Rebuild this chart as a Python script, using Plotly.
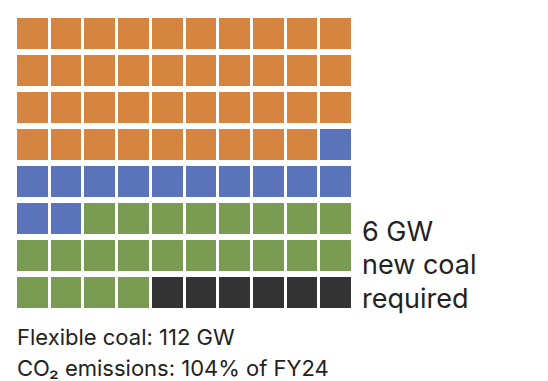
import plotly.graph_objects as go

# Waffle data: counts of cells per segment (10 x 8 grid)
segments = ["Segment A", "Segment B", "Segment C", "New coal"]
segment_counts = [39, 13, 22, 6]
segment_colors = ["#D5853F", "#5B73BA", "#7A9C52", "#333333"]
n_cols = 10
n_rows = 8

side_lines = ["6 GW", "new coal", "required"]
footer_lines = ["Flexible coal: 112 GW", "CO₂ emissions: 104% of FY24"]

# build grid (row-major, top-left first)
flat = []
for i, c in enumerate(segment_counts):
    flat += [i] * c
z = [flat[r * n_cols:(r + 1) * n_cols] for r in range(n_rows)]
labels = [[segments[v] for v in row] for row in z]

k = len(segments)
cs = []
for i, col in enumerate(segment_colors):
    cs.append([i / k, col])
    cs.append([(i + 1) / k, col])

fig = go.Figure(go.Heatmap(
    z=z, x=list(range(n_cols)), y=list(range(n_rows)),
    text=labels, hoverinfo="text",
    zmin=-0.5, zmax=k - 0.5, colorscale=cs, showscale=False,
    xgap=3, ygap=6,
))

# page body has an 8px margin: figure sized to fit the window
OFF = 8
W, H = 548 - OFF, 381 - OFF
L, T, PW, PH = 15.5 - OFF, 15 - OFF, 338, 296
fig.update_layout(
    width=W, height=H,
    margin=dict(l=L, t=T, r=W - L - PW, b=H - T - PH, pad=0),
    paper_bgcolor="white", plot_bgcolor="white",
    font=dict(family="Inter, Liberation Sans, sans-serif", color="#222222"),
    xaxis=dict(visible=False, range=[-0.5, n_cols - 0.5], fixedrange=True),
    yaxis=dict(visible=False, range=[n_rows - 0.5, -0.5], fixedrange=True),
)

def px_x(p):
    return (p - OFF - L) / PW

def px_y(p):
    return 1 - (p - OFF - T) / PH

side_centers = [231, 264, 298]
for txt, yc in zip(side_lines, side_centers):
    fig.add_annotation(
        text=txt, xref="paper", yref="paper",
        x=px_x(361), y=px_y(yc), xanchor="left", yanchor="middle",
        align="left", showarrow=False, font=dict(size=27, color="#222222"),
    )

footer_centers = [337, 368]
for txt, yc in zip(footer_lines, footer_centers):
    fig.add_annotation(
        text=txt, xref="paper", yref="paper",
        x=px_x(14), y=px_y(yc), xanchor="left", yanchor="middle",
        align="left", showarrow=False, font=dict(size=22, color="#222222"),
    )

fig.write_html("out.html")
